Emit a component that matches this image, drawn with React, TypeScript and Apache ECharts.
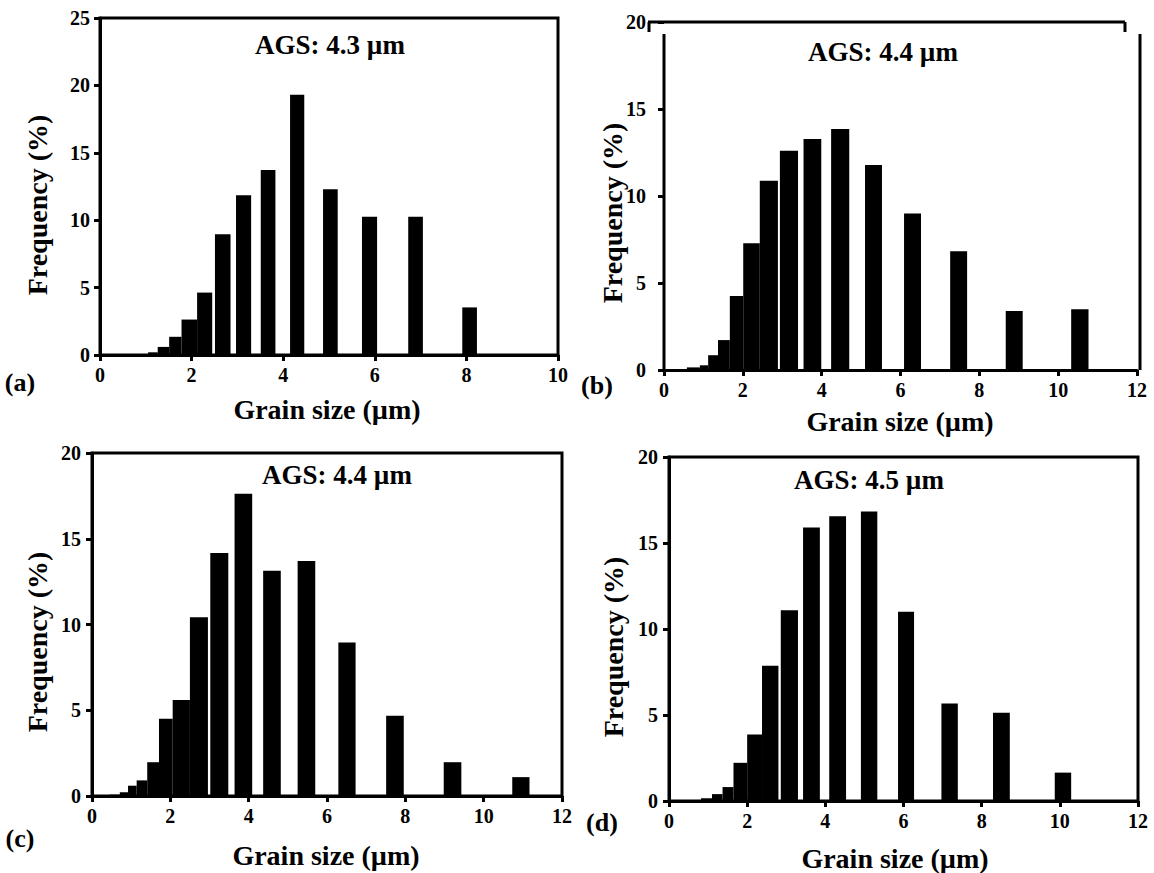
import React, { useEffect, useRef } from "react";
import * as echarts from "echarts";

// ---- Data (bin edges in µm, frequency in %) ----
const aLo = [0.73, 1.05, 1.26, 1.51, 1.78, 2.12, 2.51, 2.97, 3.51, 4.15, 4.87, 5.72, 6.73, 7.91];
const aHi = [1.05, 1.26, 1.51, 1.78, 2.12, 2.45, 2.85, 3.30, 3.83, 4.46, 5.19, 6.05, 7.05, 8.23];
const aFreq = [0.07, 0.2, 0.6, 1.35, 2.63, 4.63, 8.95, 11.85, 13.72, 19.3, 12.3, 10.25, 10.25, 3.53];

const bLo = [0.07, 0.58, 0.91, 1.12, 1.37, 1.67, 2.01, 2.43, 2.94, 3.54, 4.24, 5.10, 6.09, 7.26, 8.67, 10.33];
const bHi = [0.58, 0.91, 1.12, 1.37, 1.67, 2.01, 2.43, 2.89, 3.40, 3.99, 4.70, 5.53, 6.52, 7.69, 9.10, 10.77];
const bFreq = [0.04, 0.15, 0.27, 0.85, 1.72, 4.25, 7.28, 10.87, 12.6, 13.28, 13.85, 11.78, 9.0, 6.83, 3.39, 3.49];

const cLo = [0.07, 0.45, 0.71, 0.92, 1.14, 1.41, 1.71, 2.06, 2.50, 3.02, 3.64, 4.37, 5.25, 6.29, 7.51, 8.98, 10.73];
const cHi = [0.45, 0.71, 0.92, 1.14, 1.41, 1.71, 2.06, 2.50, 2.96, 3.48, 4.09, 4.82, 5.70, 6.73, 7.96, 9.43, 11.17];
const cFreq = [0.03, 0.08, 0.22, 0.6, 0.91, 1.97, 4.5, 5.6, 10.43, 14.17, 17.63, 13.13, 13.7, 8.95, 4.68, 1.97, 1.1];

const dLo = [0.10, 0.61, 0.82, 1.10, 1.37, 1.65, 2.00, 2.38, 2.86, 3.43, 4.10, 4.91, 5.86, 6.97, 8.29, 9.87];
const dHi = [0.61, 0.82, 1.10, 1.37, 1.65, 2.00, 2.38, 2.80, 3.30, 3.86, 4.53, 5.33, 6.27, 7.39, 8.72, 10.29];
const dFreq = [0.02, 0.06, 0.16, 0.4, 0.81, 2.22, 3.87, 7.86, 11.09, 15.9, 16.56, 16.83, 11.01, 5.67, 5.13, 1.65];

const xMax = [10, 12, 12, 12];
const yMax = [25, 20, 20, 20];
const agsLabels = ["AGS: 4.3 µm", "AGS: 4.4 µm", "AGS: 4.4 µm", "AGS: 4.5 µm"];
const panelLabels = ["(a)", "(b)", "(c)", "(d)"];
const xTitle = "Grain size (µm)";
const yTitle = "Frequency (%)";

const FONT = '"Liberation Serif", "Times New Roman", serif';

export default function App() {
  const ref = useRef<HTMLDivElement>(null);

  useEffect(() => {
    if (!ref.current) return;
    const chart = echarts.init(ref.current, undefined, { renderer: "svg" });

    const panels = [
      { lo: aLo, hi: aHi, f: aFreq },
      { lo: bLo, hi: bHi, f: bFreq },
      { lo: cLo, hi: cHi, f: cFreq },
      { lo: dLo, hi: dHi, f: dFreq },
    ];

    const grids = [
      { left: 100, top: 18, width: 458, height: 337 },
      { left: 664, top: 22, width: 473, height: 348 },
      { left: 92, top: 453, width: 470, height: 343 },
      { left: 669, top: 457, width: 469, height: 344 },
    ];
    const yLabelMargin = [10, 18, 11, 11];

    const axisLine = { show: true, lineStyle: { color: "#000", width: 3 } };
    const axisTick = { show: true, length: 6, lineStyle: { color: "#000", width: 3 } };
    const labelBase = {
      color: "#000",
      fontSize: 20,
      fontWeight: "bold",
      fontFamily: FONT,
    };

    const bold = (size: number) => `bold ${size}px ${FONT}`;

    const graphic: any[] = [];
    const agsPos = [
      [330, 45],
      [883, 52],
      [337, 475],
      [869, 480],
    ];
    const xTitlePos = [
      [327, 409],
      [900, 421],
      [326, 855],
      [895, 858],
    ];
    const yTitlePos = [
      [37, 205],
      [612, 213],
      [37, 642],
      [613, 647],
    ];
    const panelPos = [
      [20, 382],
      [597, 385],
      [20, 838],
      [602, 822],
    ];
    for (let i = 0; i < 4; i++) {
      graphic.push({
        type: "text",
        x: agsPos[i][0],
        y: agsPos[i][1],
        style: { text: agsLabels[i], font: bold(27), fill: "#000", align: "center", verticalAlign: "middle" },
      });
      graphic.push({
        type: "text",
        x: xTitlePos[i][0],
        y: xTitlePos[i][1],
        style: { text: xTitle, font: bold(28), fill: "#000", align: "center", verticalAlign: "middle" },
      });
      graphic.push({
        type: "text",
        x: yTitlePos[i][0],
        y: yTitlePos[i][1],
        rotation: Math.PI / 2,
        style: { text: yTitle, font: bold(28), fill: "#000", align: "center", verticalAlign: "middle" },
      });
      graphic.push({
        type: "text",
        x: panelPos[i][0],
        y: panelPos[i][1],
        style: { text: panelLabels[i], font: bold(26), fill: "#000", align: "center", verticalAlign: "middle" },
      });
    }

    // Panel (b) frame: offset top bracket, separate left/right lines
    const lineStyle = { stroke: "#000", lineWidth: 3 };
    const bL = 664, bR = 1140, bT = 22, bB = 370;
    graphic.push(
      { type: "line", shape: { x1: 648, y1: bT, x2: 1125, y2: bT }, style: lineStyle },
      { type: "line", shape: { x1: 649, y1: bT, x2: 649, y2: bT + 10 }, style: lineStyle },
      { type: "line", shape: { x1: 1125, y1: bT, x2: 1125, y2: bT + 10 }, style: lineStyle },
      { type: "line", shape: { x1: bL, y1: bT + 12, x2: bL, y2: bB }, style: lineStyle },
      { type: "line", shape: { x1: bR, y1: bT + 12, x2: bR, y2: bB }, style: lineStyle }
    );

    const option: any = {
      animation: false,
      backgroundColor: "#fff",
      grid: grids.map((g, i) => ({
        ...g,
        show: i !== 1,
        borderColor: "#000",
        borderWidth: 3,
        backgroundColor: "transparent",
        containLabel: false,
      })),
      xAxis: grids.map((_, i) => ({
        type: "value",
        gridIndex: i,
        min: 0,
        max: xMax[i],
        interval: 2,
        axisLine,
        axisTick,
        axisLabel: { ...labelBase, margin: 10 },
        splitLine: { show: false },
      })),
      yAxis: grids.map((_, i) => ({
        type: "value",
        gridIndex: i,
        min: 0,
        max: yMax[i],
        interval: 5,
        axisLine: i === 1 ? { show: false } : axisLine,
        axisTick,
        axisLabel: { ...labelBase, margin: yLabelMargin[i] },
        splitLine: { show: false },
      })),
      series: panels.map((p, i) => ({
        type: "custom",
        xAxisIndex: i,
        yAxisIndex: i,
        clip: true,
        encode: { x: [0, 1], y: 2 },
        data: p.lo.map((l, k) => [l, p.hi[k], p.f[k]]),
        renderItem: (params: any, api: any) => {
          const p0 = api.coord([api.value(0), 0]);
          const p1 = api.coord([api.value(1), api.value(2)]);
          return {
            type: "rect",
            shape: { x: p0[0], y: p1[1], width: p1[0] - p0[0], height: p0[1] - p1[1] },
            style: { fill: "#000" },
          };
        },
        z: 1,
      })),
      graphic,
    };

    chart.setOption(option);
    return () => chart.dispose();
  }, []);

  return (
    <div
      ref={ref}
      style={{ position: "fixed", left: 0, top: 0, width: 1154, height: 873, background: "#fff" }}
    />
  );
}
